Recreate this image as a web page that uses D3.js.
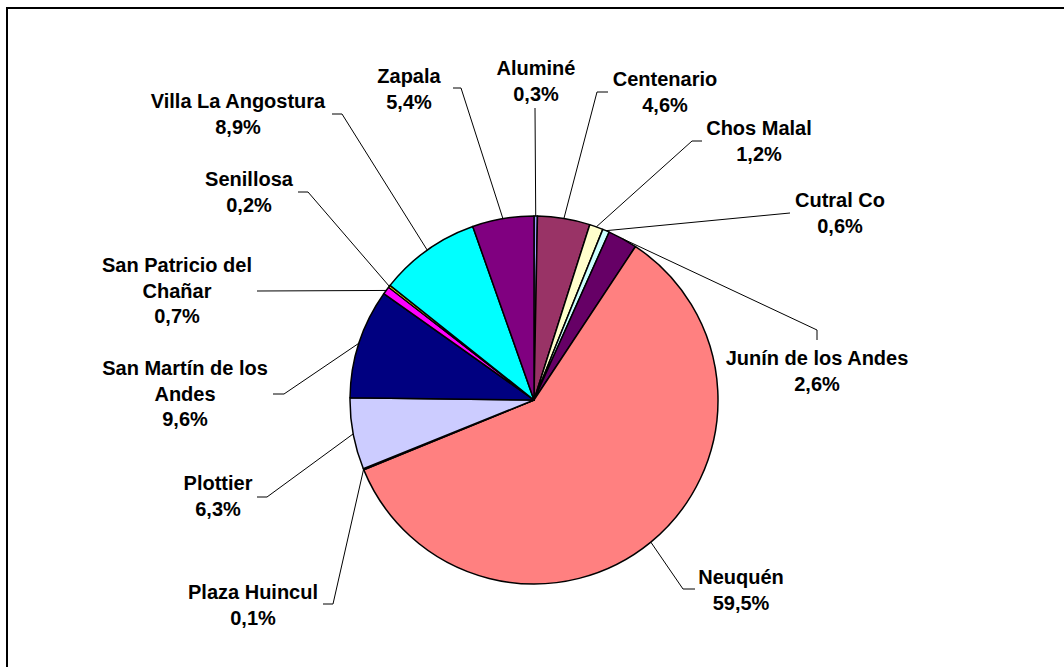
<!DOCTYPE html>
<html>
<head>
<meta charset="utf-8">
<script src="https://cdn.jsdelivr.net/npm/d3@7"></script>
<style>
  html, body { margin: 0; padding: 0; background: #fff; overflow: hidden; }
  svg { display: block; }
  text { font-family: "Liberation Sans", Arial, sans-serif; font-weight: bold; font-size: 20px; fill: #000; }
</style>
</head>
<body>
<svg id="chart" width="1064" height="667"></svg>
<script>
// ---- data ----
const categories = ["Aluminé", "Centenario", "Chos Malal", "Cutral Co", "Junín de los Andes",
  "Neuquén", "Plaza Huincul", "Plottier", "San Martín de los Andes",
  "San Patricio del Chañar", "Senillosa", "Villa La Angostura", "Zapala"];
const values = [0.3, 4.6, 1.2, 0.6, 2.6, 59.5, 0.1, 6.3, 9.6, 0.7, 0.2, 8.9, 5.4];
const labelLines = [["Aluminé"], ["Centenario"], ["Chos Malal"], ["Cutral Co"], ["Junín de los Andes"],
  ["Neuquén"], ["Plaza Huincul"], ["Plottier"], ["San Martín de los", "Andes"],
  ["San Patricio del", "Chañar"], ["Senillosa"], ["Villa La Angostura"], ["Zapala"]];

// ---- styles / layout ----
const colors = ["#9999FF", "#993366", "#FFFFCC", "#CCFFFF", "#660066", "#FF8080", "#0066CC",
  "#CCCCFF", "#000080", "#FF00FF", "#FFFF00", "#00FFFF", "#800080"];
// label text centre x and first baseline y
const labelAnchor = [[536, 75], [665, 86], [759, 135], [840, 207], [817, 365], [741, 584],
  [253, 599], [218, 490], [185, 375], [177, 272], [249, 186], [238, 108], [409, 83]];
// leader line: start point and elbow point (then to slice edge)
const leaderPts = [
  [[535, 108], null],
  [[608, 92], [597, 92]],
  [[702, 141], [692, 141]],
  [[790, 213], null],
  [[817, 340], [817, 330]],
  [[695, 589], [683, 589]],
  [[323, 604], [333, 604]],
  [[257, 497], [267, 497]],
  [[273, 394], [284, 394]],
  [[257, 291], null],
  [[298, 192], [308, 192]],
  [[332, 114], [342, 114]],
  [[453, 88], [461, 88]]
];

const cx = 534, cy = 400, R = 184, lineGap = 25.5;

const svg = d3.select("#chart");

// outer frame (extends beyond the right and bottom edges)
svg.append("rect")
  .attr("x", 7).attr("y", 8).attr("width", 1100).attr("height", 700)
  .attr("fill", "#fff").attr("stroke", "#000").attr("stroke-width", 2);

const pie = d3.pie().sort(null).value(d => d)(values);
const arc = d3.arc().innerRadius(0).outerRadius(R);
const edge = d3.arc().innerRadius(R).outerRadius(R);

const g = svg.append("g").attr("transform", `translate(${cx},${cy})`);
g.selectAll("path.slice").data(pie).join("path")
  .attr("class", "slice")
  .attr("d", arc)
  .attr("fill", (d, i) => colors[i])
  .attr("stroke", "#000")
  .attr("stroke-width", 1.5)
  .attr("stroke-linejoin", "round");

// leader lines
const fmt = v => d3.format(".1f")(v).replace(".", ",") + "%";
const leaders = svg.append("g");
pie.forEach((d, i) => {
  const c = edge.centroid(d);
  const p = [[...leaderPts[i][0]]];
  if (leaderPts[i][1]) p.push(leaderPts[i][1]);
  p.push([cx + c[0], cy + c[1]]);
  leaders.append("path")
    .attr("d", d3.line()(p))
    .attr("fill", "none").attr("stroke", "#000").attr("stroke-width", 1);
});

// labels
const labels = svg.append("g");
pie.forEach((d, i) => {
  const [x, y] = labelAnchor[i];
  const lines = labelLines[i].concat([fmt(values[i])]);
  const t = labels.append("text").attr("text-anchor", "middle");
  lines.forEach((l, k) => {
    t.append("tspan").attr("x", x).attr("y", y + k * lineGap).text(l);
  });
});
</script>
</body>
</html>
